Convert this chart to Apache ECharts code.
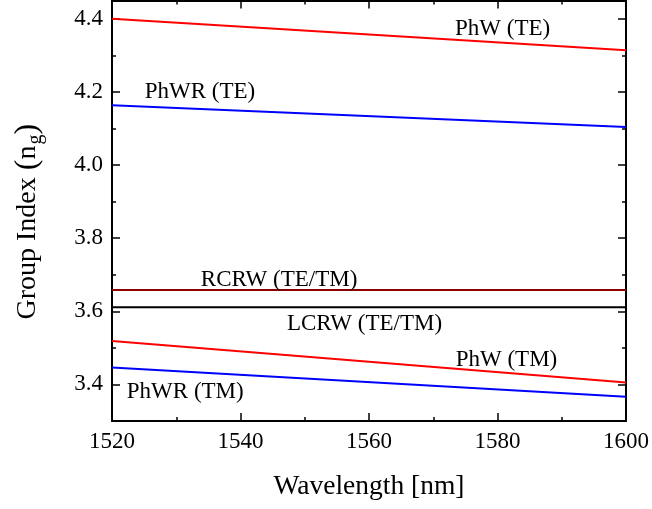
<!DOCTYPE html>
<html>
<head>
<meta charset="utf-8">
<script src="https://cdn.jsdelivr.net/npm/echarts@6/dist/echarts.min.js"></script>
<style>html,body{margin:0;padding:0;background:#fff;overflow:hidden}#c{width:652px;height:509px}</style>
</head>
<body>
<div id="c"></div>
<script>
// ---- data ----
const wavelength = [1520, 1600];
const phwTE   = [4.400, 4.314];
const phwrTE  = [4.163, 4.104];
const rcrw    = [3.658, 3.658];
const lcrw    = [3.611, 3.611];
const phwTM   = [3.519, 3.405];
const phwrTM  = [3.446, 3.366];
const xTicks = [1520, 1540, 1560, 1580, 1600];
const yTicks = [3.4, 3.6, 3.8, 4.0, 4.2, 4.4];
const yMinorTicks = [3.3, 3.5, 3.7, 3.9, 4.1, 4.3];
const annotText = ['PhW (TE)', 'PhWR (TE)', 'RCRW (TE/TM)', 'LCRW (TE/TM)', 'PhW (TM)', 'PhWR (TM)'];
const annotX = [1580.8, 1533.7, 1546.0, 1559.3, 1581.4, 1531.4];
const annotY = [4.372, 4.200, 3.686, 3.566, 3.467, 3.380];

const FONT = '"Liberation Serif", "Times New Roman", serif';
const chart = echarts.init(document.getElementById('c'), null, {renderer: 'canvas'});

function pts(ys) { return wavelength.map((w, i) => [w, ys[i]]); }
function line(name, ys, color) {
  return {
    name, type: 'line', data: pts(ys), xAxisIndex: 0, yAxisIndex: 0,
    showSymbol: false, symbol: 'none', silent: true,
    lineStyle: {color, width: 2}, z: 3
  };
}

const axisLineStyle = {show: true, lineStyle: {color: '#000', width: 2}};
const yMin = 3.3, yMax = 4.4497;

const yBase = {
  type: 'value', min: yMin, max: yMax,
  splitLine: {show: false},
  axisLine: axisLineStyle
};

const option = {
  animation: false,
  backgroundColor: '#fff',
  grid: {left: 112, right: 21, top: 0.5, bottom: 88, containLabel: false},
  xAxis: [
    {
      type: 'value', position: 'bottom', min: 1520, max: 1600, interval: 20,
      axisLine: axisLineStyle,
      axisTick: {show: true, inside: true, length: 8, lineStyle: {color: '#000', width: 1.5}},
      minorTick: {show: true, splitNumber: 2, length: 4, lineStyle: {color: '#000', width: 1.5}},
      splitLine: {show: false}, minorSplitLine: {show: false},
      axisLabel: {show: true, color: '#000', fontFamily: FONT, fontSize: 23, margin: 9,
        customValues: xTicks, formatter: v => String(v)},
      name: 'Wavelength [nm]', nameLocation: 'middle', nameGap: 52,
      nameTextStyle: {color: '#000', fontFamily: FONT, fontSize: 27.5}
    },
    {
      type: 'value', position: 'top', min: 1520, max: 1600, interval: 20,
      axisLine: axisLineStyle,
      axisTick: {show: true, inside: true, length: 8, lineStyle: {color: '#000', width: 1.5}},
      minorTick: {show: true, splitNumber: 2, length: 4, lineStyle: {color: '#000', width: 1.5}},
      splitLine: {show: false}, axisLabel: {show: false}
    }
  ],
  yAxis: [
    Object.assign({}, yBase, {
      position: 'left',
      axisTick: {show: true, inside: true, length: 8, customValues: yTicks, lineStyle: {color: '#000', width: 1.5}},
      axisLabel: {show: true, customValues: yTicks, color: '#000', fontFamily: FONT, fontSize: 23, margin: 9,
        formatter: v => v.toFixed(1)},
      name: '{n|Group Index }{p|(}{n|n}{s|g}{p|)}', nameLocation: 'middle', nameRotate: 90, nameGap: 66,
      nameTextStyle: {
        color: '#000', fontFamily: FONT, fontSize: 28, padding: [0, 22, 0, 0],
        rich: {
          n: {fontFamily: FONT, fontSize: 28, color: '#000'},
          p: {fontFamily: FONT, fontSize: 32, color: '#000'},
          s: {fontFamily: FONT, fontSize: 20, color: '#000', padding: [16, 0, 0, 1]}
        }
      }
    }),
    Object.assign({}, yBase, {
      position: 'left', axisLine: {show: false},
      axisTick: {show: true, inside: true, length: 4, customValues: yMinorTicks, lineStyle: {color: '#000', width: 1.5}},
      axisLabel: {show: false}
    }),
    Object.assign({}, yBase, {
      position: 'right',
      axisTick: {show: true, inside: true, length: 8, customValues: yTicks, lineStyle: {color: '#000', width: 1.5}},
      axisLabel: {show: false}
    }),
    Object.assign({}, yBase, {
      position: 'right', axisLine: {show: false},
      axisTick: {show: true, inside: true, length: 4, customValues: yMinorTicks, lineStyle: {color: '#000', width: 1.5}},
      axisLabel: {show: false}
    })
  ],
  series: [
    line('PhW (TE)', phwTE, '#ff0000'),
    line('PhWR (TE)', phwrTE, '#0000ff'),
    line('RCRW (TE/TM)', rcrw, '#8b0000'),
    line('LCRW (TE/TM)', lcrw, '#000000'),
    line('PhW (TM)', phwTM, '#ff0000'),
    line('PhWR (TM)', phwrTM, '#0000ff'),
    {
      name: 'labels', type: 'scatter', xAxisIndex: 0, yAxisIndex: 0, silent: true,
      symbolSize: 0, z: 5, itemStyle: {opacity: 1},
      data: annotText.map((t, i) => ({value: [annotX[i], annotY[i]], name: t})),
      label: {show: true, position: 'inside', formatter: p => p.name, opacity: 1,
        textBorderWidth: 0, color: '#000', fontFamily: FONT, fontSize: 23}
    }
  ]
};
chart.setOption(option);
</script>
</body>
</html>
